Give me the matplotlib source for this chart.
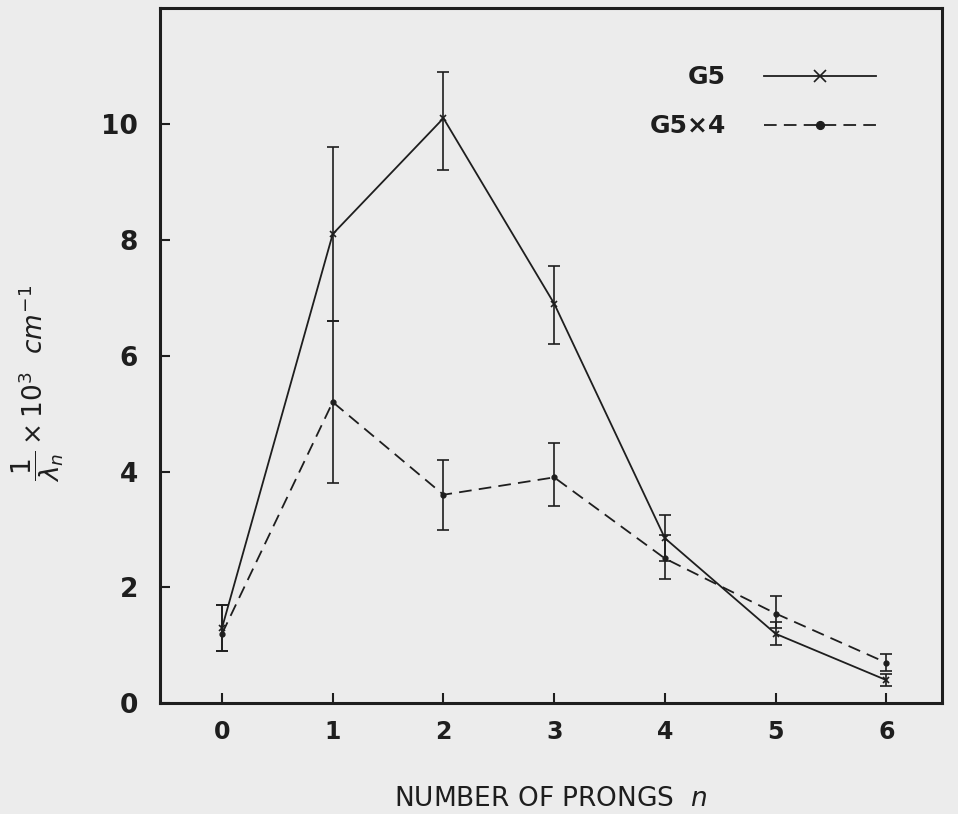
import numpy as np
import matplotlib.pyplot as plt

# Values.
prongs = [0, 1, 2, 3, 4, 5, 6]
xtick_labels = ['0', '1', '2', '3', '4', '5', '6']
ytick_values = [0, 2, 4, 6, 8, 10]

g5 = [1.3, 8.1, 10.1, 6.9, 2.85, 1.2, 0.4]
g5_err_low = [0.4, 1.5, 0.9, 0.7, 0.4, 0.2, 0.1]
g5_err_high = [0.4, 1.5, 0.8, 0.65, 0.4, 0.2, 0.1]

g5x4 = [1.2, 5.2, 3.6, 3.9, 2.5, 1.55, 0.7]
g5x4_err_low = [0.3, 1.4, 0.6, 0.5, 0.35, 0.25, 0.15]
g5x4_err_high = [0.5, 1.4, 0.6, 0.6, 0.4, 0.3, 0.15]

paper = '#ececec'
ink = '#1e1e1e'

fig = plt.figure(figsize=(9.58, 8.14), dpi=100, facecolor=paper)
ax = fig.add_axes([0.167, 0.136, 0.816, 0.854])
ax.set_facecolor(paper)

c1 = ax.errorbar(prongs, g5, yerr=[g5_err_low, g5_err_high], color=ink, lw=1.3,
                 marker='x', ms=5, mew=1.2, capsize=4, elinewidth=1.2, capthick=1.2)
c2 = ax.errorbar(prongs, g5x4, yerr=[g5x4_err_low, g5x4_err_high], color=ink, lw=1.3,
                 ls=(0, (7, 4)), marker='o', ms=3.5, capsize=4, elinewidth=1.2,
                 capthick=1.2)

ax.set_xlim(-0.56, 6.5)
ax.set_ylim(0, 12)
ax.set_xticks(prongs)
ax.set_xticklabels(xtick_labels)
ax.set_yticks(ytick_values)

for side in ['left', 'bottom', 'top', 'right']:
    ax.spines[side].set_linewidth(2.2)
    ax.spines[side].set_color(ink)

ax.tick_params(axis='both', direction='in', length=7, width=1.5, colors=ink)
ax.tick_params(axis='x', labelsize=17, pad=12)
ax.tick_params(axis='y', labelsize=19, pad=16)
for lab in ax.get_xticklabels() + ax.get_yticklabels():
    lab.set_fontweight('bold')

ax.set_xlabel(r'NUMBER OF PRONGS  $\mathit{n}$', fontsize=19, labelpad=30, color=ink)
ax.set_ylabel(r'$\dfrac{1}{\lambda_n}\times10^{3}\ \ \mathit{cm}^{-1}$', fontsize=19, color=ink)
ax.yaxis.set_label_coords(-0.12, 0.46)

leg = ax.legend([c1[0], c2[0]], ['G5', 'G5×4'], loc='upper right',
                bbox_to_anchor=(0.945, 0.95), frameon=False,
                markerfirst=False, fontsize=18, handlelength=4.5,
                labelspacing=1.0, handletextpad=1.5, markerscale=1.6)
for t in leg.get_texts():
    t.set_fontweight('bold')
    t.set_color(ink)

plt.savefig('out.png', dpi=100, facecolor=paper)
